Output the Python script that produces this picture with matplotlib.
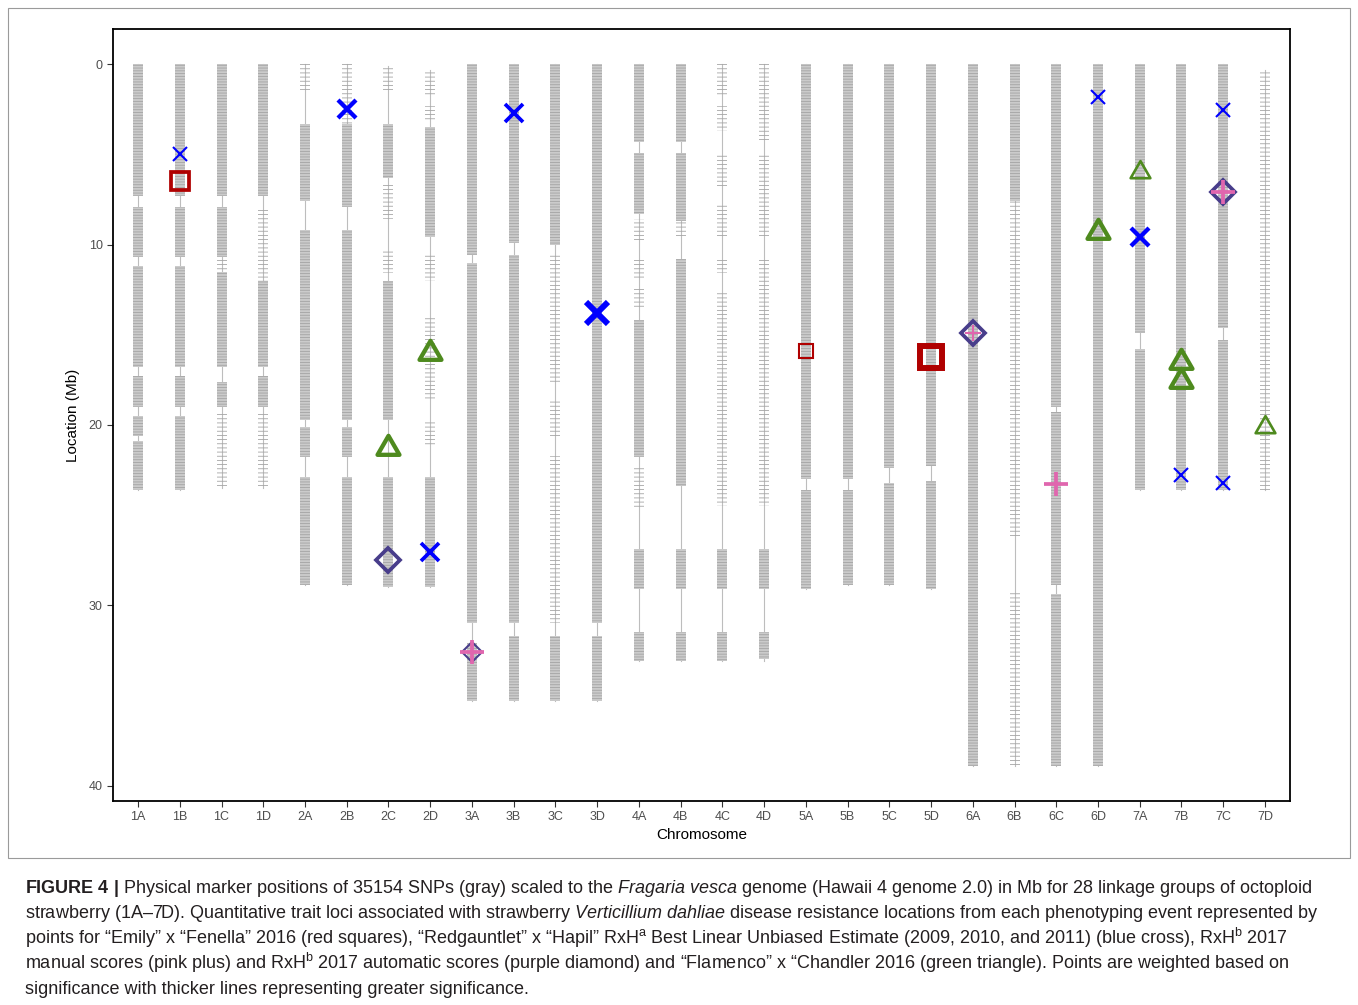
import matplotlib.pyplot as plt
from matplotlib.path import Path
from matplotlib.markers import MarkerStyle
from matplotlib.patches import Rectangle

plt.rcParams['font.family'] = ['Liberation Sans', 'DejaVu Sans']
plt.rcParams['mathtext.fontset'] = 'custom'
plt.rcParams['mathtext.rm'] = 'Liberation Sans'
plt.rcParams['mathtext.it'] = 'Liberation Sans:italic'
plt.rcParams['mathtext.bf'] = 'Liberation Sans:bold'
plt.rcParams['hatch.linewidth'] = 0.6

# linkage groups and physical extent (Mb)
chromosomes = ['1A', '1B', '1C', '1D', '2A', '2B', '2C', '2D', '3A', '3B', '3C', '3D',
               '4A', '4B', '4C', '4D', '5A', '5B', '5C', '5D', '6A', '6B', '6C', '6D',
               '7A', '7B', '7C', '7D']
chrom_start = [0, 0, 0, 0, 0, 0, 0.1, 0.3, 0, 0, 0, 0,
               0, 0, 0, 0, 0, 0, 0, 0, 0, 0, 0, 0, 0, 0, 0, 0.3]
chrom_end = [23.6, 23.6, 23.5, 23.5, 28.9, 28.9, 29.0, 29.0, 35.3, 35.3, 35.3, 35.3,
             33.1, 33.1, 33.1, 33.1, 29.1, 28.9, 28.9, 29.1, 38.9, 38.9, 38.9, 38.9,
             23.6, 23.6, 23.6, 23.6]

# SNP-dense stretches per linkage group (Mb)
dense_blocks = [
    [(0, 7.3), (7.9, 10.7), (11.2, 16.8), (17.3, 19.0), (19.5, 20.6), (20.9, 23.6)],
    [(0, 7.3), (7.9, 10.7), (11.2, 16.8), (17.3, 19.0), (19.5, 23.6)],
    [(0, 7.3), (7.9, 10.7), (11.5, 16.8), (17.6, 19.0)],
    [(0, 7.3), (12.0, 16.8), (17.3, 19.0)],
    [(3.3, 7.6), (9.2, 19.7), (20.1, 21.8), (22.9, 28.9)],
    [(3.3, 7.9), (9.2, 19.7), (20.1, 21.8), (22.9, 28.9)],
    [(3.3, 6.3), (12.0, 19.7), (22.9, 29.0)],
    [(3.5, 9.6), (22.9, 29.0)],
    [(0, 10.6), (11.0, 31.0), (32.1, 35.3)],
    [(0, 9.9), (10.6, 31.0), (31.7, 35.3)],
    [(0, 10.0), (31.7, 35.3)],
    [(0, 31.0), (31.7, 35.3)],
    [(0, 4.3), (4.9, 8.3), (14.2, 21.8), (26.9, 29.1), (31.5, 33.1)],
    [(0, 4.3), (4.9, 8.7), (10.8, 23.4), (26.9, 29.1), (31.5, 33.1)],
    [(26.9, 29.1), (31.5, 33.1)],
    [(26.9, 29.1), (31.5, 33.0)],
    [(0, 23.0), (23.6, 29.1)],
    [(0, 23.0), (23.6, 28.9)],
    [(0, 22.4), (23.2, 28.9)],
    [(0, 22.3), (23.1, 29.1)],
    [(0, 38.9)],
    [(0, 7.6)],
    [(0, 19.0), (19.3, 28.9), (29.4, 38.9)],
    [(0, 38.9)],
    [(0, 14.9), (15.8, 23.6)],
    [(0, 23.6)],
    [(0, 14.6), (15.3, 23.6)],
    [],
]
# SNP-sparse stretches per linkage group (Mb)
sparse_blocks = [
    [], [], [(10.7, 11.5), (19.4, 23.5)], [(7.9, 12.0), (19.4, 23.5)],
    [(0, 1.6)], [(0, 3.3)],
    [(0.1, 1.6), (6.6, 8.6), (10.3, 11.6)],
    [(0.3, 1.8), (2.3, 3.2), (10.6, 12.0), (14.0, 18.6), (19.8, 21.2)],
    [], [], [(10.5, 17.6), (18.7, 20.8), (21.7, 31.0)], [],
    [(8.6, 9.9), (10.8, 11.9), (12.3, 13.6), (22.2, 24.7)], [(8.7, 9.5)],
    [(0, 1.7), (2.3, 3.7), (4.9, 6.8), (7.7, 9.6), (10.7, 11.6), (12.7, 24.5)],
    [(0, 4.2), (4.9, 9.6), (10.7, 24.5)],
    [], [], [], [], [],
    [(7.6, 26.2), (29.3, 38.9)], [], [], [], [], [],
    [(0.3, 23.6)],
]

# QTL peaks: linkage group, position (Mb), phenotyping event, significance weight
qtl_chrom = ['1B', '5A', '5D',
             '1B', '2B', '2D', '3B', '3D', '6D', '7A', '7B', '7C', '7C',
             '2C', '3A', '6A', '7C',
             '3A', '6A', '6C', '7C',
             '2C', '2D', '6D', '7A', '7B', '7B', '7D']
qtl_pos = [6.48, 15.9, 16.26,
           4.96, 2.5, 27.05, 2.7, 13.77, 1.81, 9.6, 22.8, 2.52, 23.2,
           27.5, 32.6, 14.9, 7.06,
           32.6, 14.9, 23.3, 7.06,
           21.3, 16.0, 9.3, 5.97, 16.5, 17.55, 20.1]
qtl_event = ['EF2016'] * 3 + ['RxH_BLUE'] * 10 + ['RxH2017_auto'] * 4 + \
            ['RxH2017_manual'] * 4 + ['FC2016'] * 7
qtl_weight = [2.5, 1, 4.5,
              1, 3, 2.5, 2.5, 4.5, 1, 3, 1, 1, 1,
              2.5, 1, 2.5, 2.5,
              2.5, 1, 2.5, 2.5,
              3, 3, 3, 1.5, 3, 3, 1.5]

tri_path = Path([(0, 1.0), (-0.866, -0.5), (0.866, -0.5), (0, 1.0)],
                [Path.MOVETO, Path.LINETO, Path.LINETO, Path.CLOSEPOLY])
event_style = {
    'EF2016': dict(marker='s', color='#B00000', base=8.0, step=1.8),
    'RxH_BLUE': dict(marker='x', color='#0000FF', base=8.5, step=1.5),
    'RxH2017_auto': dict(marker='D', color='#483D8B', base=8.5, step=1.5),
    'RxH2017_manual': dict(marker='+', color='#E066AE', base=7.0, step=4.0),
    'FC2016': dict(marker=MarkerStyle(tri_path, joinstyle='round'), color='#4E8A1E',
                   base=14.6, step=1.2),
}

fig = plt.figure(figsize=(13.58, 10.05), dpi=100)
ax = fig.add_axes([113 / 1358, 1 - 801 / 1005, 1177 / 1358, 772 / 1005])

snp_gray = '#A4A4A4'
for i, ch in enumerate(chromosomes):
    x = i + 1
    ax.plot([x, x], [chrom_start[i], chrom_end[i]], color='#BDBDBD', lw=0.8, zorder=1)
    for a, b in dense_blocks[i]:
        ax.bar(x, b - a, bottom=a, width=0.24, color='#CBCBCB', edgecolor=snp_gray,
               hatch='------', linewidth=0, zorder=2)
    for a, b in sparse_blocks[i]:
        ax.bar(x, b - a, bottom=a, width=0.24, color='none', edgecolor=snp_gray,
               hatch='----', linewidth=0, zorder=2)

for ev in ['EF2016', 'RxH_BLUE', 'RxH2017_auto', 'RxH2017_manual', 'FC2016']:
    st = event_style[ev]
    for c, p, e, w in zip(qtl_chrom, qtl_pos, qtl_event, qtl_weight):
        if e != ev:
            continue
        ax.plot(chromosomes.index(c) + 1, p, linestyle='none', marker=st['marker'],
                markersize=st['base'] + st['step'] * w, markerfacecolor='none',
                markeredgecolor=st['color'], markeredgewidth=0.7 + 0.8 * w, zorder=5)

ax.set_xlim(0.4, 28.6)
ax.set_ylim(40.85, -1.95)
ax.set_xticks(range(1, len(chromosomes) + 1))
ax.set_xticklabels(chromosomes, family=['Liberation Sans Narrow', 'Liberation Sans'])
ax.set_yticks([0, 10, 20, 30, 40])
ax.tick_params(axis='both', colors='#333333', labelcolor='#4D4D4D', labelsize=9,
               length=4, width=0.8)
for s in ax.spines.values():
    s.set_linewidth(1.3)
    s.set_color('black')
ax.set_xlabel('Chromosome', fontsize=11, labelpad=3)
ax.set_ylabel('Location (Mb)', fontsize=11, labelpad=6)

fig.patches.append(Rectangle((8 / 1358, 1 - 858 / 1005), 1342 / 1358, 850 / 1005,
                             transform=fig.transFigure, fill=False,
                             edgecolor='#9A9A9A', lw=0.8))

caption = [
    r"$\mathbf{FIGURE\ 4\ |}$ Physical marker positions of 35154 SNPs (gray) scaled to the "
    r"$\mathit{Fragaria\ vesca}$ genome (Hawaii 4 genome 2.0) in Mb for 28 linkage groups of octoploid",
    r"strawberry (1A–7D). Quantitative trait loci associated with strawberry "
    r"$\mathit{Verticillium\ dahliae}$ disease resistance locations from each phenotyping event represented by",
    r"points for “Emily” x “Fenella” 2016 (red squares), “Redgauntlet” x “Hapil” RxH$^{\mathrm{a}}$ "
    r"Best Linear Unbiased Estimate (2009, 2010, and 2011) (blue cross), RxH$^{\mathrm{b}}$ 2017",
    r"manual scores (pink plus) and RxH$^{\mathrm{b}}$ 2017 automatic scores (purple diamond) and "
    r"“Flamenco” x “Chandler 2016 (green triangle). Points are weighted based on",
    r"significance with thicker lines representing greater significance.",
]
for k, line in enumerate(caption):
    fig.text(25 / 1358, 1 - (893 + 25.3 * k) / 1005, line, fontsize=13.0,
             color='#231F20', va='baseline', ha='left')

fig.savefig('out.png', dpi=100)
